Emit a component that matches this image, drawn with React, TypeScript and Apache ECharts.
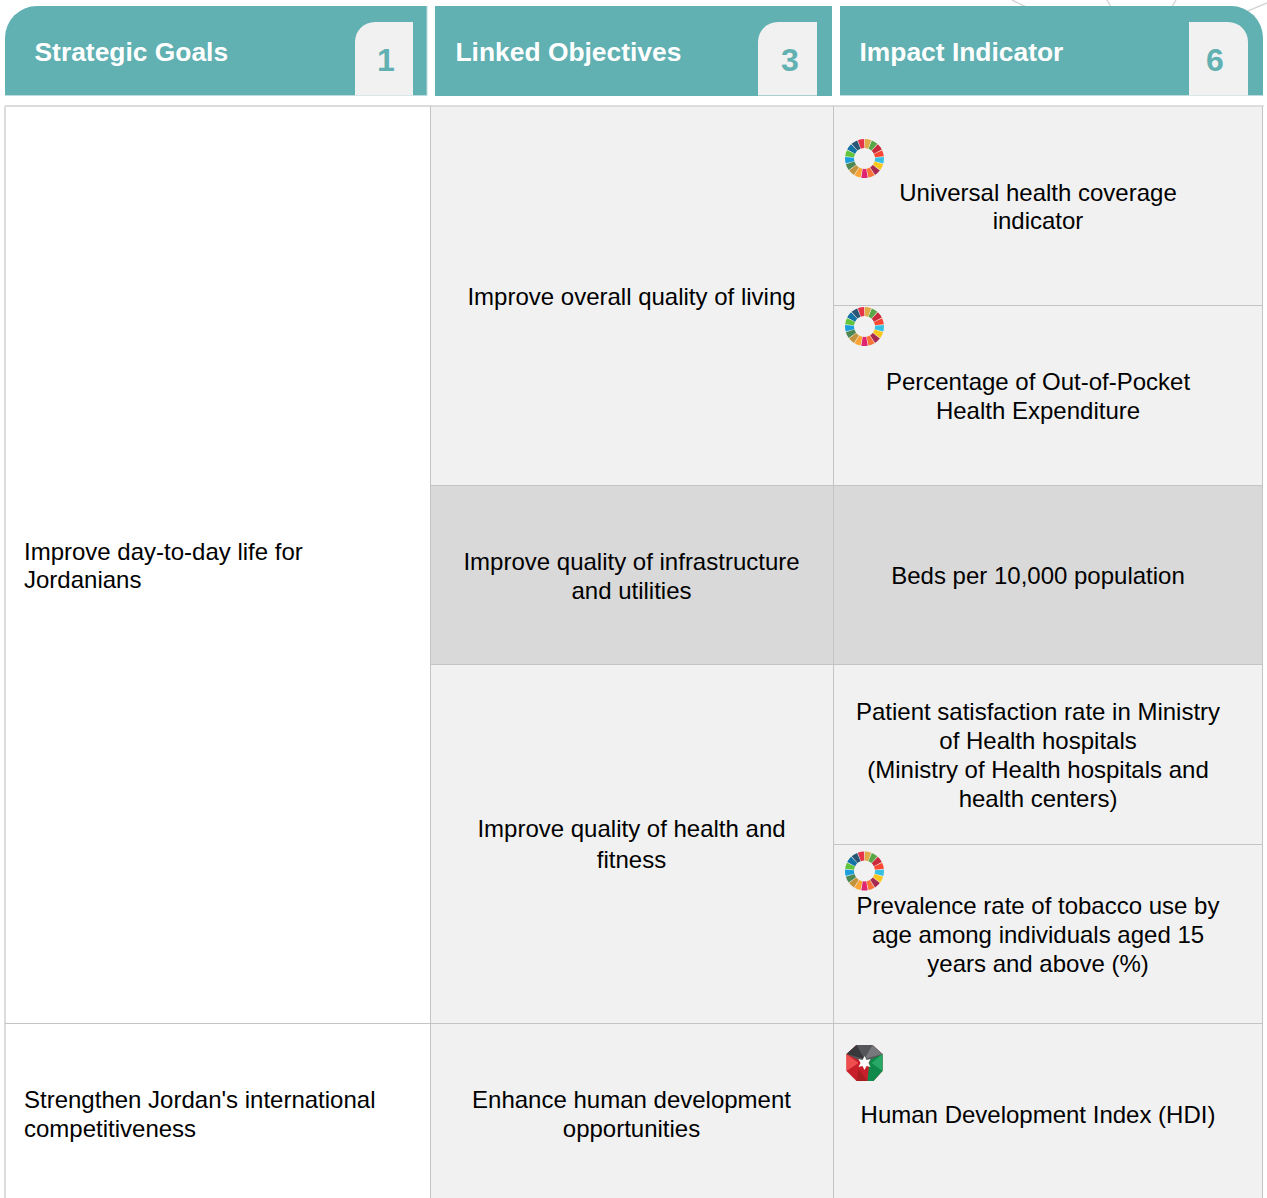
import React, { useEffect, useRef } from "react";
import * as echarts from "echarts";

const FONT = "'Liberation Sans', Arial, sans-serif";
const TEAL = "#61b0b2";
const PALE = "#bcdcdd";
const LINE = "#c4c4c4";
const OUTER = "#dcdcdc";
const LIGHT = "#f1f1f1";
const DARK = "#d9d9d9";

const headerTitles = ["Strategic Goals", "Linked Objectives", "Impact Indicator"];
const headerCounts = ["1", "3", "6"];
const goals = ["Improve day-to-day life for\nJordanians", "Strengthen Jordan's international\ncompetitiveness"];
const objectives = [
  "Improve overall quality of living",
  "Improve quality of infrastructure\nand utilities",
  "Improve quality of health and\nfitness",
  "Enhance human development\nopportunities",
];
const indicators = [
  "Universal health coverage\nindicator",
  "Percentage of Out-of-Pocket\nHealth Expenditure",
  "Beds per 10,000 population",
  "Patient satisfaction rate in Ministry\nof Health hospitals\n(Ministry of Health hospitals and\nhealth centers)",
  "Prevalence rate of tobacco use by\nage among individuals aged 15\nyears and above (%)",
  "Human Development Index (HDI)",
];
const sdgColors = ["#e5243b", "#dda63a", "#4c9f38", "#c5192d", "#ff3a21", "#26bde2", "#fcc30b", "#a21942", "#fd6925", "#dd1367", "#fd9d24", "#bf8b2e", "#3f7e44", "#0a97d9", "#56c02b", "#00689d", "#19486a"];

function txt(x: number, y: number, text: string, o: any = {}) {
  return {
    type: "text", x, y, silent: true,
    style: { text, fontFamily: FONT, fontSize: 24, lineHeight: 29, fill: "#000000", align: "center", verticalAlign: "middle", ...o },
  };
}
function rect(x: number, y: number, w: number, h: number, fill: string, r: any = 0) {
  return { type: "rect", silent: true, shape: { x, y, width: w, height: h, r }, style: { fill } };
}
function ln(x1: number, y1: number, x2: number, y2: number, stroke = LINE, lineWidth = 1) {
  return { type: "line", silent: true, shape: { x1, y1, x2, y2 }, style: { stroke, lineWidth } };
}
function wheel(cx: number, cy: number) {
  const n = sdgColors.length;
  const step = (Math.PI * 2) / n;
  return sdgColors.map((fill, i) => {
    const mid = -Math.PI / 2 - step * 0.5 + i * step;
    return {
      type: "sector", silent: true,
      shape: { cx, cy, r: 19.5, r0: 10.5, startAngle: mid - step * 0.45, endAngle: mid + step * 0.45, clockwise: true },
      style: { fill, opacity: 0.92 },
    };
  });
}
function poly(points: number[][], fill: string) {
  return { type: "polygon", silent: true, shape: { points }, style: { fill } };
}
function jordanLogo(cx: number, cy: number) {
  const p = (dx: number, dy: number) => [cx + dx, cy + dy];
  return [
    poly([p(-8, -18), p(8, -18), p(18, -9), p(18, 8), p(9, 18), p(-8, 18), p(-18, 8), p(-18, -9)], "#c8202a"),
    poly([p(-8, -18), p(8, -18), p(18, -9), p(6, -3), p(-6, -3), p(-18, -9)], "#55565a"),
    poly([p(-8, -18), p(0, -4), p(-18, -9)], "#38383a"),
    poly([p(8, -18), p(0, -4), p(18, -9)], "#77787b"),
    poly([p(-18, -9), p(-6, 0), p(-18, 8)], "#ee4e4e"),
    poly([p(-6, 6), p(3, 18), p(-8, 18)], "#a91d22"),
    poly([p(18, -9), p(5, -3), p(3, 18), p(9, 18), p(18, 8)], "#0f8a4b"),
    poly([p(18, -9), p(7, 0), p(18, 8)], "#27a866"),
    poly([p(0, -7), p(2, -3), p(6, -4), p(4, 0), p(6, 4), p(2, 3), p(0, 7), p(-2, 3), p(-6, 4), p(-4, 0), p(-6, -4), p(-2, -3)], "#ffffff"),
  ];
}

export default function App() {
  const ref = useRef<HTMLDivElement>(null);
  useEffect(() => {
    const chart = echarts.init(ref.current!, null, { renderer: "svg" });
    const cTop = 106, cBot = 1198;
    const x0 = 5, x1 = 430.5, x2 = 833.5, x3 = 1262.5;
    const g: any[] = [];
    // faint background network lines
    const bg = "#d6d6d6";
    g.push(ln(1012, 0, 1026, 7, bg, 1.5), ln(1107, 0, 1111, 7, bg, 1.5), ln(1176, 0, 1172, 7, bg, 1.5), ln(1248, 11, 1267, 3, bg, 1.5));
    // headers
    g.push(rect(5, 6, 422, 90, TEAL, [32, 0, 0, 0]));
    g.push(rect(435, 6, 397, 90, TEAL));
    g.push(rect(840, 6, 423, 90, TEAL, [0, 32, 0, 0]));
    g.push(ln(5, 95.5, 427, 95.5, PALE), ln(840, 95.5, 1263, 95.5, PALE), ln(427, 6, 427, 96, PALE));
    g.push(rect(355, 22, 58, 73.5, LIGHT, [20, 0, 0, 0]));
    g.push(rect(758, 22, 59, 73.5, LIGHT, [20, 0, 0, 0]));
    g.push(rect(1189, 22, 59, 73.5, LIGHT, [0, 20, 0, 0]));
    [34.5, 455.5, 859.5].forEach((x, i) => g.push(txt(x, 52, headerTitles[i], { fontSize: 26.4, fontWeight: "bold", fill: "#ffffff", align: "left", lineHeight: 30 })));
    [386, 790, 1215].forEach((x, i) => g.push(txt(x, 60, headerCounts[i], { fontSize: 32, fontWeight: "bold", fill: TEAL, lineHeight: 34 })));
    // cell fills
    g.push(rect(x0, cTop, x1 - x0, cBot - cTop, "#ffffff"));
    g.push(rect(x1, cTop, x2 - x1, 379, LIGHT));
    g.push(rect(x2, cTop, x3 - x2, 379, LIGHT));
    g.push(rect(x1, 485.5, x3 - x1, 179.5, DARK));
    g.push(rect(x1, 665, x3 - x1, cBot - 665, LIGHT));
    // grid lines
    g.push(ln(x0, cTop, x3 + 1, cTop, OUTER, 2), ln(x0, cTop, x0, cBot, OUTER, 2));
    g.push(ln(x1, cTop, x1, cBot), ln(x2, cTop, x2, cBot), ln(x3, cTop, x3, cBot));
    g.push(ln(x0, 1023.5, x3, 1023.5), ln(x1, 485.5, x3, 485.5), ln(x1, 664.5, x3, 664.5));
    g.push(ln(x2, 305.5, x3, 305.5), ln(x2, 844.5, x3, 844.5));
    // texts
    g.push(txt(24, 565, goals[0], { align: "left", lineHeight: 28 }), txt(24, 1113.5, goals[1], { align: "left" }));
    g.push(txt(631.5, 296, objectives[0]));
    g.push(txt(631.5, 575.5, objectives[1]));
    g.push(txt(631.5, 843.5, objectives[2], { lineHeight: 31 }));
    g.push(txt(631.5, 1113.5, objectives[3]));
    const indicatorY = [206.5, 395.5, 575, 754.5, 934, 1114];
    indicatorY.forEach((y, i) => g.push(txt(1038, y, indicators[i], i === 0 ? { lineHeight: 28 } : {})));
    // icons
    [158.5, 326.5, 871].forEach((y) => g.push(...wheel(864.5, y)));
    g.push(...jordanLogo(864.5, 1063));
    chart.setOption({ animation: false, graphic: { elements: g } });
    return () => chart.dispose();
  }, []);
  return <div ref={ref} style={{ position: "absolute", left: 0, top: 0, width: 1267, height: 1198 }} />;
}
